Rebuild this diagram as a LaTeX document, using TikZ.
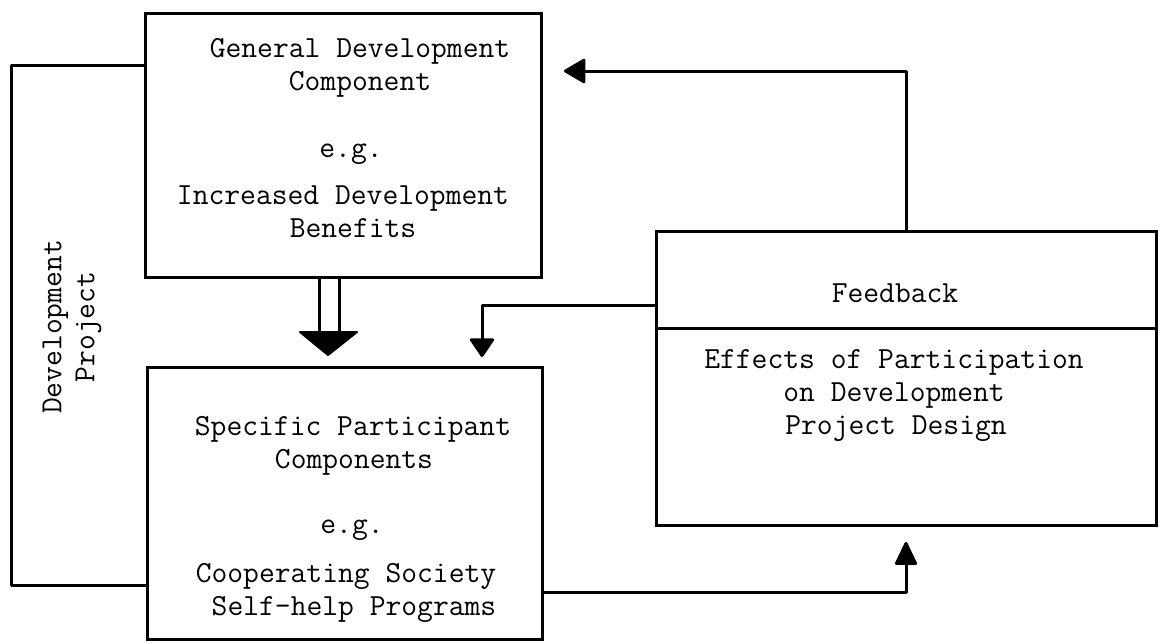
\documentclass[tikz,border=0pt]{standalone}
\usetikzlibrary{arrows.meta}
\begin{document}
\begin{tikzpicture}[x=1pt,y=-1pt,
  box/.style={draw, line width=3pt, inner sep=0pt},
  conn/.style={draw, line width=3pt, line join=round},
  arrowtip/.style={-{Triangle[length=23pt,width=26pt,round]}},
  lbl/.style={font=\ttfamily\fontsize{30.7}{33}\selectfont, inner sep=0pt, anchor=base},
  vlbl/.style={font=\ttfamily\fontsize{30.7}{33}\selectfont, inner sep=0pt, align=center, rotate=90}
]
\useasboundingbox (0,0) rectangle (1162,643);

% boxes
\node[box, minimum width=396pt, minimum height=264pt] (gen) at (343,145) {};
\node[box, minimum width=395pt, minimum height=272pt] (spec) at (344.5,503) {};
\node[box, minimum width=500pt, minimum height=97pt] (fbhead) at (906,279.5) {};
\node[box, minimum width=500pt, minimum height=197pt] (fbbody) at (906,426.5) {};

% texts of the general component
\node[lbl] (g1) at (360,57) {General Development};
\node[lbl] (g2) at (360,90) {Component};
\node[lbl] (g3) at (351,157) {e.g.};
\node[lbl] (g4) at (343,204) {Increased Development};
\node[lbl] (g5) at (353,237) {Benefits};

% texts of the participant components
\node[lbl] (s1) at (353,435) {Specific Participant};
\node[lbl] (s2) at (354,468) {Components};
\node[lbl] (s3) at (352,533) {e.g.};
\node[lbl] (s4) at (346,582) {Cooperating Society};
\node[lbl] (s5) at (354,615) {Self-help Programs};

% texts of the feedback box
\node[lbl] (f0) at (895,302) {Feedback};
\node[lbl] (f1) at (894,368) {Effects of Participation};
\node[lbl] (f2) at (894,401) {on Development};
\node[lbl] (f3) at (896,434) {Project Design};

% side label
\node[vlbl] (dp) at (72,327) {Development\\Project};

% bracket joining both components
\coordinate (lbtop) at (11,65);
\coordinate (lbbot) at (11,585);
\draw[conn] (gen.west |- lbtop) -- (lbtop) -- (lbbot) -- (spec.west |- lbbot);

% hollow double arrow between the components
\coordinate (dl) at (319,334);
\coordinate (dr) at (339,334);
\draw[conn] (gen.south -| dl) -- (dl);
\draw[conn] (gen.south -| dr) -- (dr);
\fill[draw, line width=2pt, line join=round] (300,332) -- (357,332) -- (328,355) -- cycle;

% feedback into the participant components
\coordinate (fbturn) at (482,305);
\coordinate (fbend) at (482,357);
\draw[conn, -{Triangle[length=20pt,width=26pt,round]}] (fbhead.west |- fbturn) -- (fbturn) -- (fbend);

% feedback up to the general component
\coordinate (topturn) at (906,71);
\coordinate (topend) at (564,71);
\draw[conn, arrowtip] (fbhead.north) -- (topturn) -- (topend);

% participant components into the feedback box
\coordinate (botend) at (906,542);
\coordinate (botstart) at (0,592);
\draw[conn, -{Triangle[length=25pt,width=23pt,round]}] (spec.east |- botstart) -| (botend);
\end{tikzpicture}
\end{document}
